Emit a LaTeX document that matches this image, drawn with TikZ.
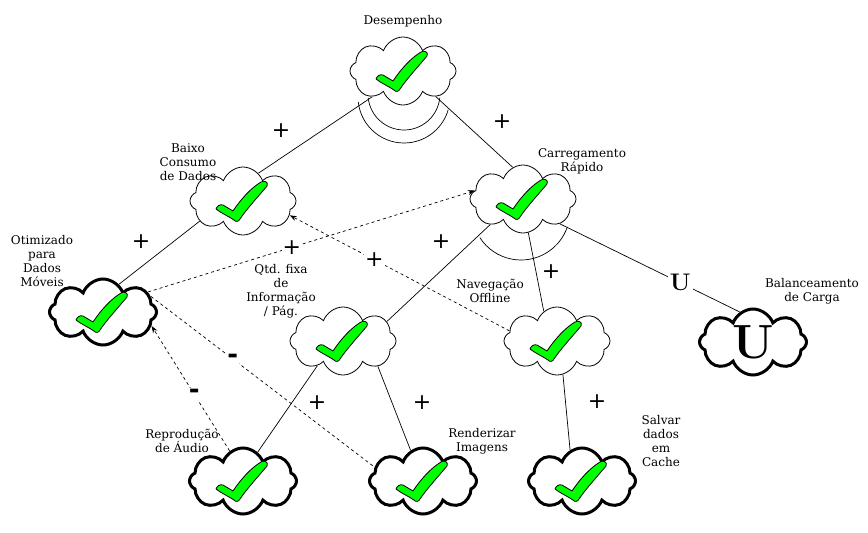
\documentclass[tikz,border=0pt]{standalone}
\usepackage{fontspec}
\setmainfont{DejaVu Serif}
\newfontfamily\lmr{Latin Modern Roman}
\newfontfamily\symf{DejaVu Sans}
\usetikzlibrary{shapes.symbols,arrows.meta}
\definecolor{chk}{RGB}{0,255,0}
\tikzset{
  check/.pic={
    \filldraw[fill=chk, draw=black, line width=0.8pt, line join=round]
      (-27,8) .. controls (-26,5) and (-23,3) .. (-20,4)
      -- (-10,10)
      .. controls (-2,-2) and (8,-13) .. (18,-19)
      .. controls (21,-21) and (26,-19) .. (24,-15)
      .. controls (13,-2) and (3,9) .. (-3,18)
      .. controls (-4,21) and (-8,21) .. (-9,19)
      .. controls (-15,15) and (-22,12) .. cycle;
  }
}
\begin{document}
\begin{tikzpicture}[x=1pt,y=-1pt,
  soft/.style={cloud, cloud puffs=8, cloud puff arc=140, aspect=1.6, draw=black, fill=white,
    line width=0.8pt, minimum width=106pt, minimum height=68pt, inner sep=0pt},
  softthick/.style={soft, line width=3pt, minimum width=107pt, minimum height=66pt},
  lbl/.style={font=\fontsize{12}{14}\selectfont, align=center, inner sep=0pt},
  link/.style={line width=0.7pt},
  dlink/.style={link, dash pattern=on 3pt off 3pt},
  arr/.style={-{Stealth[length=7pt,width=5pt]}},
  plus/.style={font=\symf\fontsize{22}{22}\selectfont, inner sep=1pt},
  pluson/.style={plus, fill=white},
  minus/.style={font=\symf\bfseries\fontsize{26}{26}\selectfont, fill=white, inner sep=1pt},
  ulbl/.style={font=\lmr\bfseries\fontsize{24}{24}\selectfont, fill=white, inner sep=2pt},
]
\useasboundingbox (0,0) rectangle (868,533);

% softgoals
\node[soft] (des) at (403,71) {};
\node[soft] (baixo) at (243,201) {};
\node[soft] (carr) at (523,199) {};
\node[soft] (qtd) at (343,341) {};
\node[soft] (nav) at (557,341) {};
\node[softthick] (otim) at (103,312) {};
\node[softthick] (bal) at (753,342) {};
\node[softthick] (rep) at (243,481) {};
\node[softthick] (ren) at (423,481) {};
\node[softthick] (sal) at (582,481) {};

\pic at (des.center) {check};
\pic at (baixo.center) {check};
\pic at (carr.center) {check};
\pic at (qtd.center) {check};
\pic at (nav.center) {check};
\pic at (otim.center) {check};
\pic at (rep.center) {check};
\pic at (ren.center) {check};
\pic at (sal.center) {check};
\node[font=\lmr\bfseries\fontsize{48}{48}\selectfont, inner sep=0pt] (bigu) at (bal.center) {U};

% labels
\node[lbl] (tdes) at (403,21) {Desempenho};
\node[lbl] (tbaixo) at (188,162) {Baixo\\Consumo\\de Dados};
\node[lbl] (tcarr) at (582,161) {Carregamento\\Rápido};
\node[lbl] (totim) at (42,261) {Otimizado\\para\\Dados\\Móveis};
\node[lbl] (tqtd) at (281,291) {Qtd. fixa\\de\\Informação\\/ Pág.};
\node[lbl] (tnav) at (490,291) {Navegação\\Offline};
\node[lbl] (tbal) at (812,291) {Balanceamento\\de Carga};
\node[lbl] (trep) at (182,441) {Reprodução\\de Áudio};
\node[lbl] (tren) at (482,441) {Renderizar\\Imagens};
\node[lbl] (tsal) at (661,441) {Salvar\\dados\\em\\Cache};

% decomposition arcs
\draw[link] (des.center) ++(1,23) ++(174:36) arc[start angle=174, end angle=6, radius=36];
\draw[link] (des.center) ++(1,26) ++(174:46) arc[start angle=174, end angle=16, radius=46];
\draw[link] (carr.center) ++(-2,12) ++(147:49) arc[start angle=147, end angle=19, radius=49];

% links
\draw[link] (des.220) -- (baixo.61);
\draw[link] (des.322) -- (carr.108);
\draw[link] (baixo.205) -- (otim.60);
\draw[link] (carr.218) -- (qtd.24);
\draw[link] (carr.279) -- (nav.114);
\draw[link] (carr.326) -- node[pos=0.67, ulbl] (u1) {U} (bal.114);
\draw[dlink, arr] (otim.24) -- node[pos=0.44, pluson] (c7) {+} (carr.170);
\draw[dlink, arr] (nav.168) -- node[pos=0.615, pluson] (c8) {+} (baixo.343);
\draw[dlink] (otim.18) -- node[pos=0.366, minus] (c9) {-} (ren.164);
\draw[dlink, arr] (rep.114) -- node[pos=0.454, minus] (c10) {-} (otim.344);
\draw[link] (qtd.224) -- (rep.63);
\draw[link] (qtd.324) -- (ren.112);
\draw[link] (nav.280) -- (sal.111);

% contribution labels beside solid links
\node[plus] (c1) at (281,131) {+};
\node[plus] (c2) at (502,122) {+};
\node[plus] (c3) at (141,242) {+};
\node[plus] (c4) at (441,242) {+};
\node[plus] (c5) at (551,272) {+};
\node[plus] (c11) at (317,403) {+};
\node[plus] (c12) at (422,403) {+};
\node[plus] (c13) at (597,402) {+};
\end{tikzpicture}
\end{document}
